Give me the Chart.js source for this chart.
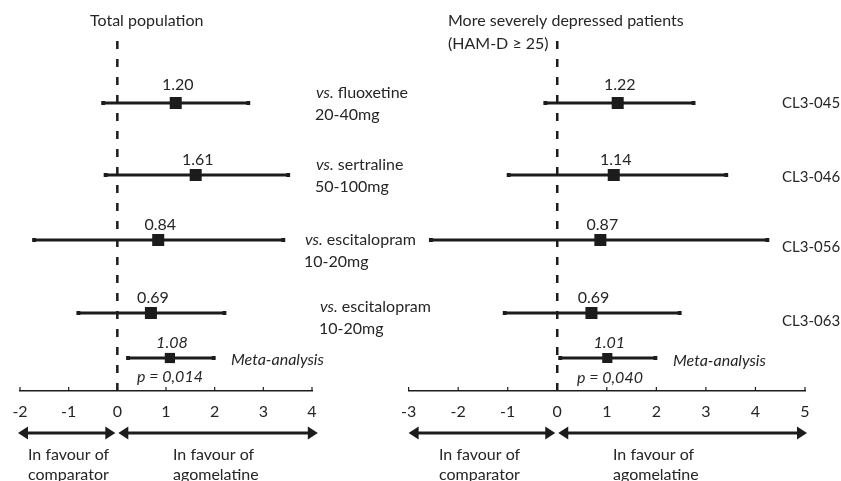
<!DOCTYPE html>
<html>
<head>
<meta charset="utf-8">
<script src="https://cdn.jsdelivr.net/npm/chart.js@4"></script>
<style>
  body { margin: 0; background: #fff; width: 841px; height: 481px; position: relative; overflow: hidden; }
  .box { position: absolute; top: 0; height: 481px; }
  #leftBox { left: 0; width: 440px; }
  #rightBox { left: 390px; width: 451px; }
</style>
</head>
<body>
<div class="box" id="leftBox"><canvas id="leftChart"></canvas></div>
<div class="box" id="rightBox"><canvas id="rightChart"></canvas></div>
<script>
// vertical slots: 4 trials then the meta-analysis
const rowY = [7.2, 5.4, 3.775, 1.95, 0.825];
const zeroTop = 8.8;

// total population
const leftEffect = [1.20, 1.61, 0.84, 0.69, 1.08];
const leftLower  = [-0.29, -0.24, -1.71, -0.80, 0.22];
const leftUpper  = [2.69, 3.51, 3.41, 2.20, 1.98];
const leftTicks  = [-2, -1, 0, 1, 2, 3, 4];

// HAM-D >= 25
const rightEffect = [1.22, 1.14, 0.87, 0.69, 1.01];
const rightLower  = [-0.24, -0.98, -2.55, -1.06, 0.06];
const rightUpper  = [2.75, 3.41, 4.24, 2.47, 1.98];
const rightTicks  = [-3, -2, -1, 0, 1, 2, 3, 4, 5];

const comparators = ['fluoxetine', 'sertraline', 'escitalopram', 'escitalopram'];
const doses = ['20-40mg', '50-100mg', '10-20mg', '10-20mg'];
const studies = ['CL3-045', 'CL3-046', 'CL3-056', 'CL3-063'];
const pValues = ['p = 0,014', 'p = 0,040'];

const ink = '#1c1c1c';
const textInk = '#262626';
const FONT = 'Lato';

function txt(ctx, s, x, y, italic, align, size) {
  ctx.font = (italic ? 'italic ' : '') + (size || 16) + 'px ' + FONT;
  ctx.fillStyle = textInk;
  ctx.textAlign = align || 'left';
  ctx.textBaseline = 'middle';
  ctx.fillText(s, x, y);
}

function arrow(ctx, x1, x2, y) {
  const len = 10, half = 6.5;
  ctx.strokeStyle = ink;
  ctx.fillStyle = ink;
  ctx.lineWidth = 3;
  ctx.beginPath();
  ctx.moveTo(x1 + len - 2, y);
  ctx.lineTo(x2 - len + 2, y);
  ctx.stroke();
  ctx.beginPath();
  ctx.moveTo(x1, y); ctx.lineTo(x1 + len, y - half); ctx.lineTo(x1 + len, y + half); ctx.closePath();
  ctx.fill();
  ctx.beginPath();
  ctx.moveTo(x2, y); ctx.lineTo(x2 - len, y - half); ctx.lineTo(x2 - len, y + half); ctx.closePath();
  ctx.fill();
}

function common(chart, effect, tickVals) {
  const ctx = chart.ctx;
  const x = chart.scales.x, y = chart.scales.y;
  const bottom = chart.chartArea.bottom;
  // short tick marks pointing up
  ctx.save();
  ctx.strokeStyle = ink;
  ctx.lineWidth = 1.2;
  tickVals.forEach(v => {
    const px = x.getPixelForValue(v);
    ctx.beginPath();
    ctx.moveTo(px, bottom);
    ctx.lineTo(px, bottom - 4);
    ctx.stroke();
  });
  // value labels above the squares
  effect.forEach((v, i) => {
    txt(ctx, v.toFixed(2), x.getPixelForValue(v) + 2, y.getPixelForValue(rowY[i]) - (i === 0 ? 18 : 15), i === 4, 'center');
  });
  ctx.restore();
}

function buildChart(id, effect, lower, upper, tickVals, pad, annotate) {
  const datasets = [{
    type: 'line',
    data: [{x: 0, y: 0}, {x: 0, y: zeroTop}],
    borderColor: ink, borderWidth: 2.5, borderDash: [8, 10], pointRadius: 0
  }];
  effect.forEach((v, i) => {
    datasets.push({
      type: 'line',
      data: [{x: lower[i], y: rowY[i]}, {x: upper[i], y: rowY[i]}],
      borderColor: ink, borderWidth: 3,
      pointStyle: 'rect', pointRadius: 2.8, pointBackgroundColor: ink, pointBorderWidth: 0
    });
  });
  datasets.push({
    type: 'scatter',
    data: effect.map((v, i) => ({x: v, y: rowY[i]})),
    pointStyle: 'rect',
    pointRadius: effect.map((v, i) => i === 4 ? 7.2 : 8.5),
    backgroundColor: ink, borderWidth: 0
  });

  return new Chart(document.getElementById(id), {
    type: 'scatter',
    data: { datasets },
    options: {
      animation: false,
      responsive: true,
      maintainAspectRatio: false,
      layout: { padding: { top: 31, left: pad[0], right: pad[1], bottom: 0 } },
      plugins: { legend: { display: false }, tooltip: { enabled: false } },
      scales: {
        x: {
          type: 'linear',
          min: tickVals[0], max: tickVals[tickVals.length - 1],
          afterFit: s => { s.height = 90; },
          afterBuildTicks: s => { s.ticks = tickVals.map(v => ({value: v})); },
          ticks: { color: textInk, font: { family: FONT, size: 16 }, padding: 11 },
          border: { color: ink, width: 1.5 },
          grid: { display: false, drawTicks: false }
        },
        y: { display: false, min: 0, max: 9 }
      }
    },
    plugins: [{
      id: 'notes_' + id,
      afterDraw: chart => { common(chart, effect, tickVals); annotate(chart); }
    }]
  });
}

// left panel: canvas starts at page x = 0
buildChart('leftChart', leftEffect, leftLower, leftUpper, leftTicks, [20, 128], chart => {
  const ctx = chart.ctx;
  const x = chart.scales.x;
  txt(ctx, 'Total population', 90, 21);
  const cx = [316, 316, 305, 320];
  const cy = [93, 165, 240, 307];
  comparators.forEach((c, i) => {
    ctx.font = 'italic 16px ' + FONT;
    const w = ctx.measureText('vs.').width;
    txt(ctx, 'vs.', cx[i], cy[i], true);
    txt(ctx, ' ' + c, cx[i] + w, cy[i], false);
    txt(ctx, doses[i], cx[i] - 1, cy[i] + 22, false);
  });
  txt(ctx, 'Meta-analysis', 231, 360, true);
  txt(ctx, pValues[0], 137, 377, true);
  arrow(ctx, x.getPixelForValue(-2) - 2, x.getPixelForValue(0) - 2, 433);
  arrow(ctx, x.getPixelForValue(0) + 1, x.getPixelForValue(4.12), 433);
  txt(ctx, 'In favour of', 28, 455);
  txt(ctx, 'comparator', 28, 475);
  txt(ctx, 'In favour of', 173, 455);
  txt(ctx, 'agomelatine', 173, 475);
});

// right panel: canvas starts at page x = 390
buildChart('rightChart', rightEffect, rightLower, rightUpper, rightTicks, [10, 36], chart => {
  const ctx = chart.ctx;
  const x = chart.scales.x;
  const off = 390;
  txt(ctx, 'More severely depressed patients', 448 - off, 21);
  txt(ctx, '(HAM-D \u2265 25)', 448 - off, 44);
  const sy = [103, 177, 247, 321];
  studies.forEach((s, i) => txt(ctx, s, 782 - off, sy[i], false, 'left', 15));
  txt(ctx, 'Meta-analysis', 673 - off, 361, true);
  txt(ctx, pValues[1], 577 - off, 378, true);
  arrow(ctx, x.getPixelForValue(-3), x.getPixelForValue(0) - 2, 433);
  arrow(ctx, x.getPixelForValue(0) + 1, x.getPixelForValue(5) + 2, 433);
  txt(ctx, 'In favour of', 439 - off, 455);
  txt(ctx, 'comparator', 439 - off, 475);
  txt(ctx, 'In favour of', 613 - off, 455);
  txt(ctx, 'agomelatine', 613 - off, 475);
});
</script>
</body>
</html>
